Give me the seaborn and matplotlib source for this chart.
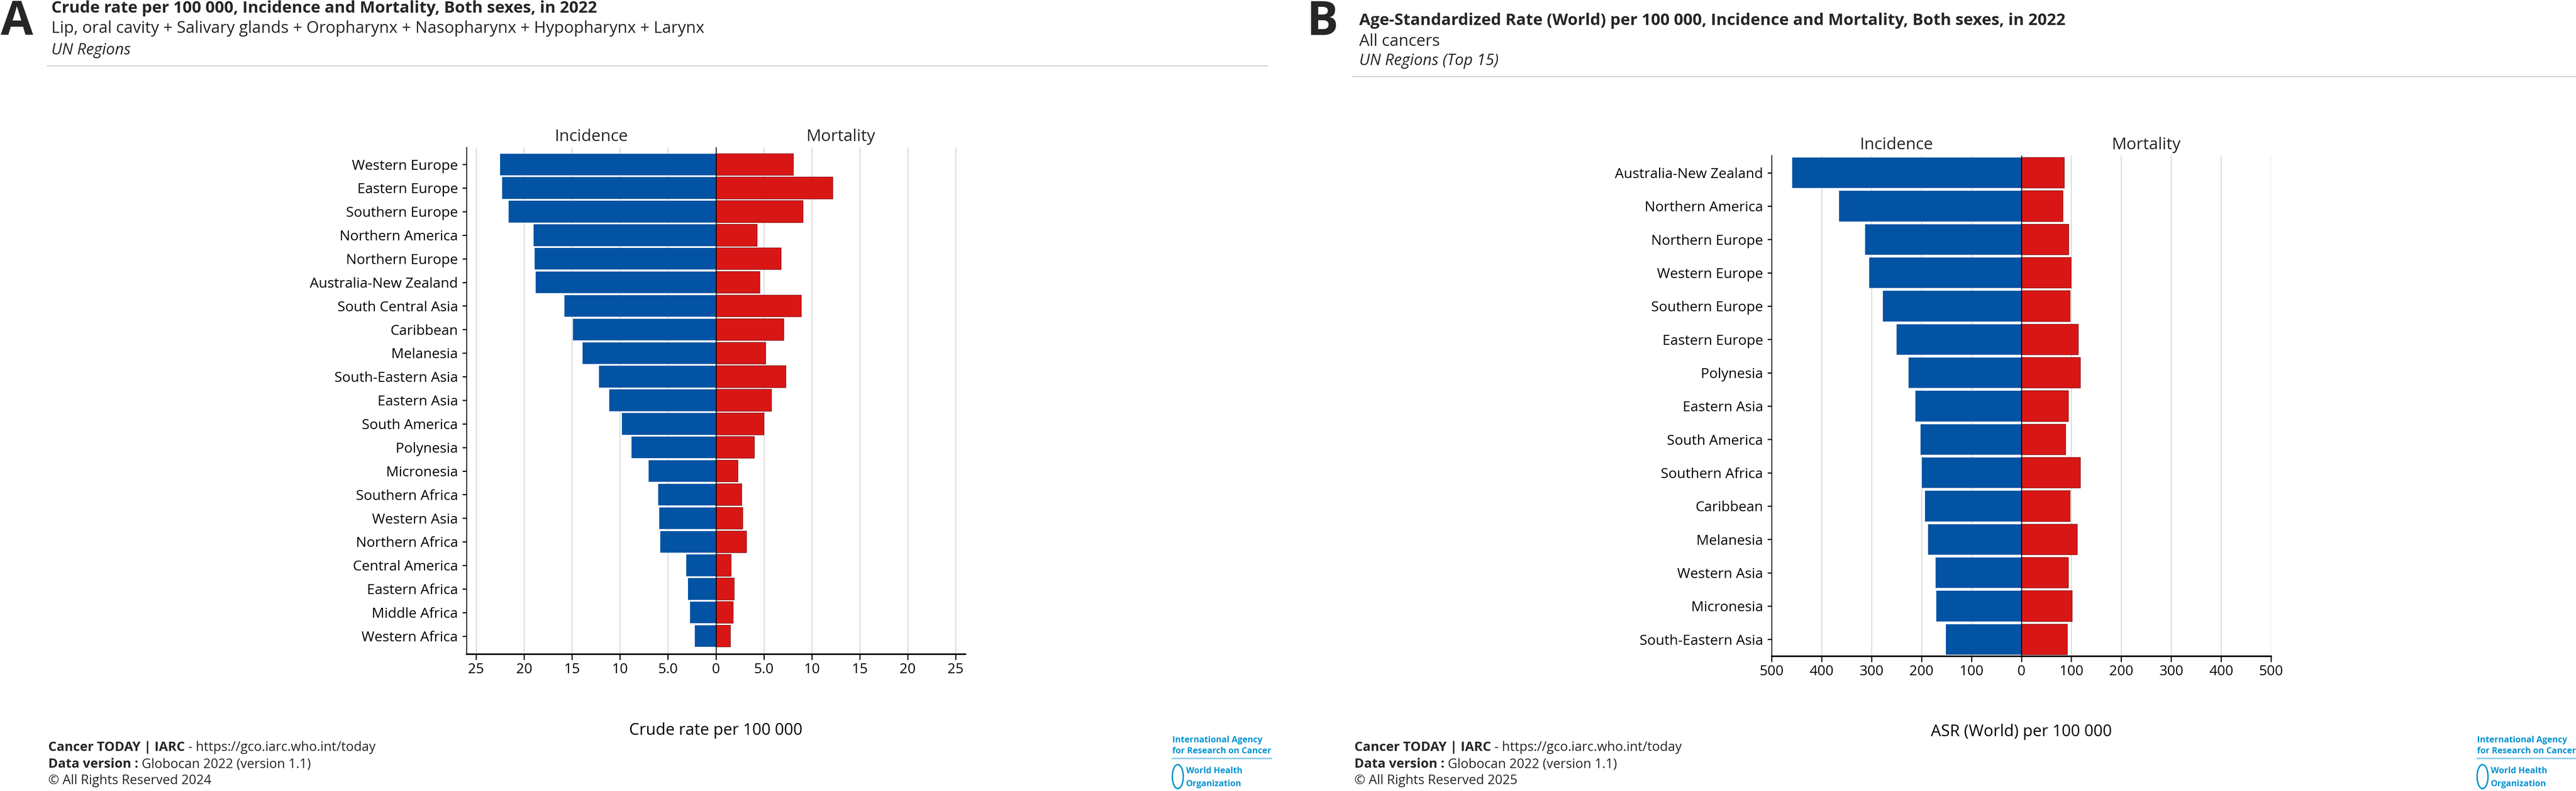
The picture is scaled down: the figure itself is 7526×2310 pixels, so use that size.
import numpy as np
import pandas as pd
import matplotlib.pyplot as plt
from matplotlib.patches import Ellipse
from matplotlib.lines import Line2D
import seaborn as sns

# ---- data: panel A (crude rate, head & neck) ----
regions_a = [
    "Western Europe", "Eastern Europe", "Southern Europe", "Northern America",
    "Northern Europe", "Australia-New Zealand", "South Central Asia", "Caribbean",
    "Melanesia", "South-Eastern Asia", "Eastern Asia", "South America", "Polynesia",
    "Micronesia", "Southern Africa", "Western Asia", "Northern Africa",
    "Central America", "Eastern Africa", "Middle Africa", "Western Africa",
]
incidence_a = [22.5, 22.3, 21.6, 19.0, 18.9, 18.8, 15.8, 14.9, 13.9, 12.2, 11.1,
               9.8, 8.8, 7.0, 6.0, 5.9, 5.8, 3.1, 2.9, 2.7, 2.2]
mortality_a = [8.1, 12.2, 9.1, 4.3, 6.8, 4.6, 8.9, 7.1, 5.2, 7.3, 5.8,
               5.0, 4.0, 2.3, 2.7, 2.8, 3.2, 1.6, 1.9, 1.8, 1.5]
ticks_a = [-25, -20, -15, -10, -5, 0, 5, 10, 15, 20, 25]
ticklabels_a = ["25", "20", "15", "10", "5.0", "0", "5.0", "10", "15", "20", "25"]

# ---- data: panel B (ASR world, all cancers, top 15) ----
regions_b = [
    "Australia-New Zealand", "Northern America", "Northern Europe", "Western Europe",
    "Southern Europe", "Eastern Europe", "Polynesia", "Eastern Asia", "South America",
    "Southern Africa", "Caribbean", "Melanesia", "Western Asia", "Micronesia",
    "South-Eastern Asia",
]
incidence_b = [459, 365, 313, 305, 277, 250, 226, 212, 202, 199, 193, 187, 172, 170, 151]
mortality_b = [86, 83, 95, 100, 98, 114, 118, 94, 89, 118, 98, 112, 94, 102, 92]
ticks_b = [-500, -400, -300, -200, -100, 0, 100, 200, 300, 400, 500]
ticklabels_b = ["500", "400", "300", "200", "100", "0", "100", "200", "300", "400", "500"]

BLUE = "#0353a4"
RED = "#d91616"
LOGO = "#0093d0"

sns.set_theme(style="white")
plt.rcParams["font.family"] = ["Open Sans", "DejaVu Sans"]

W, H = 7526, 2310
DPI = 300
fig = plt.figure(figsize=(W / DPI, H / DPI), dpi=DPI)

HEAD = 11.4
FOOT = 9.2
TICK = 9.9


def fx(px):
    return px / W


def fy(py):
    return 1 - py / H


def pyramid(ax, regions, inc, mort, ticks, ticklabels, xlim, ylim, xlabel):
    df = pd.DataFrame({"region": regions, "inc": -np.array(inc), "mort": mort})
    sns.barplot(data=df, x="inc", y="region", orient="h", color=BLUE,
                width=0.92, saturation=1, linewidth=0, ax=ax)
    sns.barplot(data=df, x="mort", y="region", orient="h", color=RED,
                width=0.92, saturation=1, edgecolor="#8a1010", linewidth=0.4, ax=ax)
    ax.set_xlim(*xlim)
    ax.set_ylim(*ylim)
    ax.set_xticks(ticks)
    ax.set_xticklabels(ticklabels)
    ax.set_axisbelow(True)
    ax.grid(axis="x", color="#d4d4d4", linewidth=0.6)
    ax.grid(axis="y", visible=False)
    ax.axvline(0, color="black", linewidth=0.6, zorder=5)
    for s in ["top", "right"]:
        ax.spines[s].set_visible(False)
    ax.spines["left"].set_color("black")
    ax.spines["left"].set_linewidth(0.6)
    ax.spines["bottom"].set_color("black")
    ax.spines["bottom"].set_linewidth(1.1)
    ax.tick_params(axis="y", left=True, length=3, width=0.8, pad=3,
                   labelsize=TICK, colors="black")
    ax.tick_params(axis="x", bottom=True, length=4, width=0.8, pad=2,
                   labelsize=TICK, colors="black")
    ax.set_ylabel("")
    ax.set_xlabel(xlabel, fontsize=11.3, color="black")
    ax.xaxis.set_label_coords(0.5, -0.135)
    ax.text(xlim[0] / 2, 1.005, "Incidence", transform=ax.get_xaxis_transform(),
            ha="center", va="bottom", fontsize=11.6)
    ax.text(xlim[1] / 2, 1.005, "Mortality", transform=ax.get_xaxis_transform(),
            ha="center", va="bottom", fontsize=11.6)


# panel A
ax_a = fig.add_axes([fx(1363), fy(1910), fx(2820 - 1363), (1910 - 430) / H])
pyramid(ax_a, regions_a, incidence_a, mortality_a, ticks_a, ticklabels_a,
        (-26, 26), (20.76, -0.73), "Crude rate per 100 000")

# panel B
ax_b = fig.add_axes([fx(5176), fy(1916), fx(6635 - 5176), (1916 - 454) / H])
pyramid(ax_b, regions_b, incidence_b, mortality_b, ticks_b, ticklabels_b,
        (-500, 500), (14.5, -0.52), "ASR (World) per 100 000")

# headers
fig.text(fx(2), fy(102), "A", fontsize=33, fontweight="bold", va="baseline")
fig.text(fx(150), fy(37), "Crude rate per 100 000, Incidence and Mortality, Both sexes, in 2022",
         fontsize=HEAD, fontweight="bold", va="baseline")
fig.text(fx(150), fy(96), "Lip, oral cavity + Salivary glands + Oropharynx + Nasopharynx + Hypopharynx + Larynx",
         fontsize=HEAD, va="baseline")
fig.text(fx(150), fy(159), "UN Regions", fontsize=HEAD - 0.4, style="italic", va="baseline")
fig.add_artist(Line2D([fx(138), fx(3703)], [fy(192), fy(192)], color="#d0d0d0", lw=0.8))

fig.text(fx(3818), fy(102), "B", fontsize=33, fontweight="bold", va="baseline")
fig.text(fx(3971), fy(73), "Age-Standardized Rate (World) per 100 000, Incidence and Mortality, Both sexes, in 2022",
         fontsize=HEAD, fontweight="bold", va="baseline")
fig.text(fx(3971), fy(134), "All cancers", fontsize=HEAD, va="baseline")
fig.text(fx(3971), fy(190), "UN Regions (Top 15)", fontsize=HEAD - 0.4, style="italic", va="baseline")
fig.add_artist(Line2D([fx(3952), 1.0], [fy(223), fy(223)], color="#d0d0d0", lw=0.8))


def footer(x0, year):
    t = fig.text(fx(x0), fy(2193), "Cancer TODAY | IARC", fontsize=FOOT,
                 fontweight="bold", va="baseline")
    fig.canvas.draw()
    bb = t.get_window_extent()
    fig.text(bb.x1 / W, fy(2193), " - https://gco.iarc.who.int/today",
             fontsize=FOOT, va="baseline")
    t2 = fig.text(fx(x0), fy(2242), "Data version :", fontsize=FOOT,
                  fontweight="bold", va="baseline")
    fig.canvas.draw()
    bb2 = t2.get_window_extent()
    fig.text(bb2.x1 / W, fy(2242), " Globocan 2022 (version 1.1)", fontsize=FOOT, va="baseline")
    fig.text(fx(x0), fy(2290), f"\u00a9 All Rights Reserved {year}", fontsize=FOOT, va="baseline")


def logo(x0):
    fig.text(fx(x0), fy(2168), "International Agency", fontsize=6,
             color=LOGO, fontweight="bold", va="baseline")
    fig.text(fx(x0), fy(2200), "for Research on Cancer", fontsize=6,
             color=LOGO, fontweight="bold", va="baseline")
    fig.add_artist(Line2D([fx(x0), fx(x0 + 290)], [fy(2215), fy(2215)], color="#8cc8e8", lw=1.0))
    fig.add_artist(Ellipse((fx(x0 + 16), fy(2268)), fx(32), 70 / H, fill=False,
                           edgecolor=LOGO, lw=1.0, transform=fig.transFigure))
    fig.text(fx(x0 + 40), fy(2258), "World Health", fontsize=6, color=LOGO,
             fontweight="bold", va="baseline")
    fig.text(fx(x0 + 40), fy(2296), "Organization", fontsize=6, color=LOGO,
             fontweight="bold", va="baseline")


footer(141, 2024)
footer(3957, 2025)
logo(3425)
logo(7237)

fig.savefig("out.png", dpi=DPI, facecolor="white")
plt.close(fig)
